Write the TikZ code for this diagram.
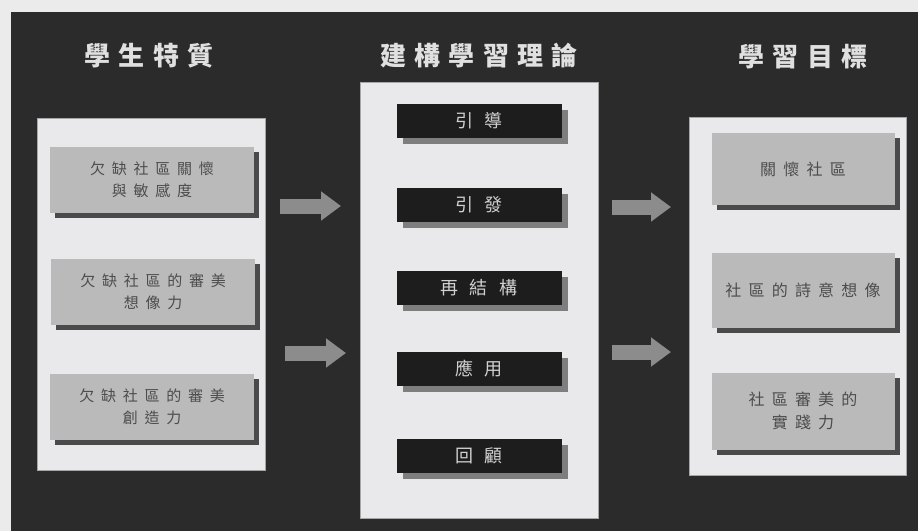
\documentclass[tikz,border=0pt]{standalone}
\usepackage{fontspec}
\usepackage{tikz}
\usetikzlibrary{arrows.meta,shadows}
\newfontfamily\headfont[LetterSpace=32]{Noto Sans CJK TC}
\newfontfamily\boxfont[LetterSpace=45]{Noto Sans CJK TC}
\newfontfamily\stepfont[LetterSpace=65]{Noto Sans CJK TC}
\definecolor{bgdark}{HTML}{2B2B2C}
\definecolor{panel}{HTML}{E9E9EC}
\definecolor{boxgray}{HTML}{BABABA}
\definecolor{boxshade}{HTML}{4A4A4A}
\definecolor{stepdark}{HTML}{1D1D1E}
\definecolor{stepshade}{HTML}{7E7E7E}
\definecolor{arrowgray}{HTML}{8C8C8C}
\tikzset{%
  heading/.style={text=black!12, font=\headfont\bfseries\fontsize{26}{28}\selectfont},
  panelbox/.style={fill=panel, draw=black!35, line width=0.8pt},
  issue/.style={%
    fill=boxgray, minimum width=204pt, minimum height=66pt, align=center,
    text=black!70, font=\boxfont\fontsize{15}{22}\selectfont,
    drop shadow={shadow xshift=5pt, shadow yshift=-5pt, fill=boxshade, opacity=1}},
  stepbox/.style={%
    fill=stepdark, minimum width=165pt, minimum height=34pt,
    text=black!18, font=\stepfont\fontsize{18}{20}\selectfont,
    drop shadow={shadow xshift=6pt, shadow yshift=-6pt, fill=stepshade, opacity=1}},
  goal/.style={%
    fill=boxgray, minimum width=183pt, align=center,
    text=black!70, font=\boxfont\fontsize{16}{23}\selectfont,
    drop shadow={shadow xshift=5pt, shadow yshift=-5pt, fill=boxshade, opacity=1}},
  flow/.style={%
    draw=arrowgray, line width=15pt,
    -{Triangle[length=20pt, width=28pt]}}
}

\begin{document}
\begin{tikzpicture}[x=1pt, y=-1pt]
    \useasboundingbox (0,0) rectangle (918,531);
    \fill [black!8] (0,0) rectangle (918,531);
    \fill [bgdark] (11,12) rectangle (918,531);

    % headings
    \node [heading] (h-1) at (149,56) {學生特質};
    \node [heading] (h-2) at (479,56) {建構學習理論};
    \node [heading] (h-3) at (803,57) {學習目標};

    % panels
    \node [panelbox, minimum width=228pt, minimum height=352pt] (l) at (151,294) {};
    \node [panelbox, minimum width=238pt, minimum height=436pt] (m) at (479,300) {};
    \node [panelbox, minimum width=217pt, minimum height=358pt] (r) at (798,296) {};

    % student traits
    \node [issue] (l-1) at (152,180) {欠缺社區關懷\\與敏感度};
    \node [issue] (l-2) at (153,292) {欠缺社區的審美\\想像力};
    \node [issue] (l-3) at (152,407) {欠缺社區的審美\\創造力};

    % constructivist steps
    \node [stepbox] (m-1) at (479,121) {引導};
    \node [stepbox] (m-2) at (479,205) {引發};
    \node [stepbox] (m-3) at (479,288) {再結構};
    \node [stepbox] (m-4) at (479,369) {應用};
    \node [stepbox] (m-5) at (479,456) {回顧};

    % goals
    \node [goal, minimum height=72pt] (r-1) at (803,169) {關懷社區};
    \node [goal, minimum height=75pt] (r-2) at (803,290) {社區的詩意想像};
    \node [goal, minimum height=77pt] (r-3) at (803,411) {社區審美的\\實踐力};

    \coordinate (a-1) at (280,206);
    \coordinate (b-1) at (341,206);
    \coordinate (a-2) at (285,353);
    \coordinate (b-2) at (346,353);
    \coordinate (c-1) at (612,207);
    \coordinate (d-1) at (671,207);
    \coordinate (c-2) at (612,352);
    \coordinate (d-2) at (671,352);

    \draw [flow] (a-1) -- (b-1);
    \draw [flow] (a-2) -- (b-2);
    \draw [flow] (c-1) -- (d-1);
    \draw [flow] (c-2) -- (d-2);
\end{tikzpicture}
\end{document}
